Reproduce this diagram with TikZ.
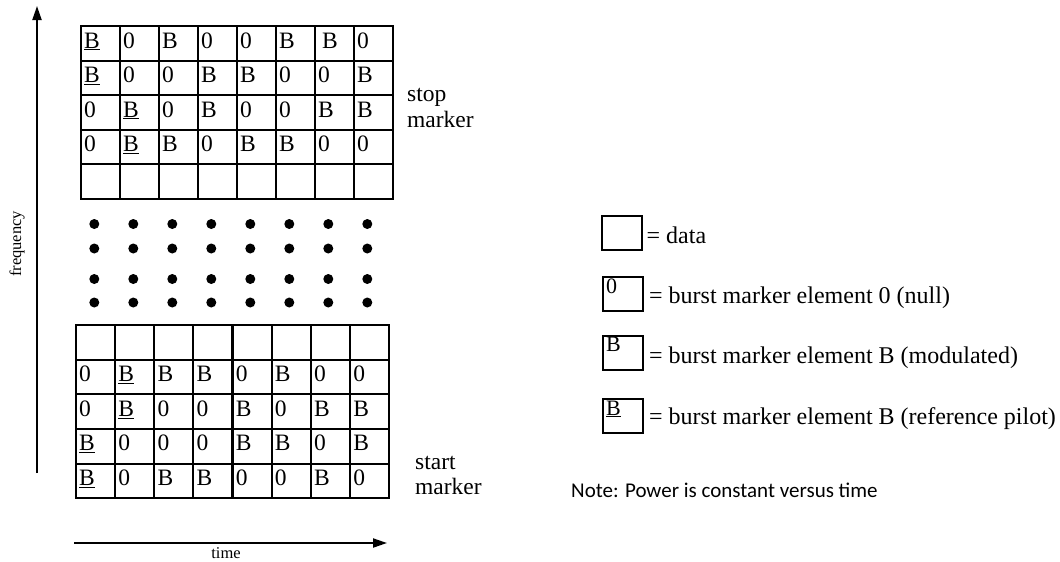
\documentclass[tikz,border=0pt]{standalone}
\usepackage{fontspec}
\setmainfont{Liberation Serif}
\newfontfamily\notefont{Carlito}
\usetikzlibrary{arrows.meta}
\newcommand\bigtxt{\fontsize{23.5pt}{27pt}\selectfont}
\newcommand\legtxt{\fontsize{24pt}{28pt}\selectfont}
\newcommand\midtxt{\fontsize{22pt}{26pt}\selectfont}
\newcommand\smalltxt{\fontsize{16.5pt}{19pt}\selectfont}
\newcommand\U{\underline{B}}
\begin{document}
\begin{tikzpicture}[x=1pt,y=-1pt,
  cell/.style={draw=black,line width=2pt,minimum width=39pt,minimum height=34.6pt,inner sep=0pt,anchor=north west},
  celltext/.style={inner sep=0pt,anchor=base west,font=\bigtxt},
  lbox/.style={draw=black,line width=2pt,minimum width=40pt,minimum height=34.3pt,inner sep=0pt,anchor=north west},
  ltext/.style={inner sep=0pt,anchor=base west,font=\legtxt},
  boxtext/.style={inner sep=0pt,anchor=base west,font=\midtxt},
  sidetext/.style={inner sep=0pt,anchor=base west,font=\bigtxt},
  dotnode/.style={circle,fill=black,inner sep=0pt,minimum size=10pt},
  axis/.style={line width=2pt,-{Triangle[length=14pt,width=9pt]}}
]
\useasboundingbox (0,0) rectangle (1060,562);

% ---- top grid (stop marker) ----
\foreach \row [count=\r] in {{\U,0,B,0,0,B,\hspace{4pt}B,0},{\U,0,0,B,B,0,0,B},{0,\U,0,B,0,0,B,B},{0,\U,B,0,B,B,0,0}}{
  \foreach \v [count=\c] in \row {
    \node[cell] (t\r\c) at ({80+39*(\c-1)},{25+34.6*(\r-1)}) {};
    \node[celltext] (tt\r\c) at ([xshift=4pt,yshift=-23pt]t\r\c.north west) {\v};
  }
}
\foreach \c in {1,...,8}{
  \node[cell] (t5\c) at ({80+39*(\c-1)},{25+34.6*4}) {};
}

% ---- bottom grid (start marker) ----
\foreach \c in {1,...,8}{
  \node[cell] (b1\c) at ({75+39.15*(\c-1)},324) {};
}
\foreach \row [count=\rr] in {{0,\U,B,B,0,B,0,0},{0,\U,0,0,B,0,B,B},{\U,0,0,0,B,B,0,B},{\U,0,B,B,0,0,B,0}}{
  \foreach \v [count=\c] in \row {
    \pgfmathtruncatemacro\r{\rr+1}
    \node[cell] (b\r\c) at ({75+39.15*(\c-1)},{324+34.66*\rr}) {};
    \node[celltext] (bt\r\c) at ([xshift=4pt,yshift=-23pt]b\r\c.north west) {\v};
  }
}

% ---- dots ----
\foreach \yy [count=\j] in {224,248.5,279,302.5}{
  \foreach \c in {1,...,8}{
    \node[dotnode] (d\j\c) at ({94.3+39*(\c-1)},\yy) {};
  }
}

% ---- side labels ----
\node[sidetext] (stopA) at (407,101) {stop};
\node[sidetext] (stopB) at (407,127) {marker};
\node[sidetext] (startA) at (415,469) {start};
\node[sidetext] (startB) at (415,494) {marker};

% ---- axes ----
\coordinate (fb) at (37,473);
\coordinate (ft) at (37,6);
\draw[axis] (fb) -- (ft);
\node[rotate=90,font=\smalltxt,inner sep=0pt] (freq) at (17,244) {frequency};
\coordinate (tl) at (74,543);
\coordinate (tr) at (387,543);
\draw[axis] (tl) -- (tr);
\node[font=\smalltxt,inner sep=0pt] (timel) at (226,553) {time};

% ---- legend ----
\node[lbox] (L1) at (601,215) {};
\node[ltext] (L1t) at (646.5,243) {= data};
\node[lbox] (L2) at (602,276) {};
\node[boxtext] (L2c) at ([xshift=4pt,yshift=-17pt]L2.north west) {0};
\node[ltext] (L2t) at (649,303) {= burst marker element 0 (null)};
\node[lbox] (L3) at (602,334.5) {};
\node[boxtext] (L3c) at ([xshift=4pt,yshift=-17pt]L3.north west) {B};
\node[ltext] (L3t) at (649,363) {= burst marker element B (modulated)};
\node[lbox] (L4) at (602,398) {};
\node[boxtext] (L4c) at ([xshift=4pt,yshift=-17pt]L4.north west) {\U};
\node[ltext] (L4t) at (649,424) {= burst marker element B (reference pilot)};

\node[inner sep=0pt,anchor=base west,font=\notefont\fontsize{21pt}{25pt}\selectfont] (note) at (571,497) {Note: Power is constant versus time};
\end{tikzpicture}
\end{document}
